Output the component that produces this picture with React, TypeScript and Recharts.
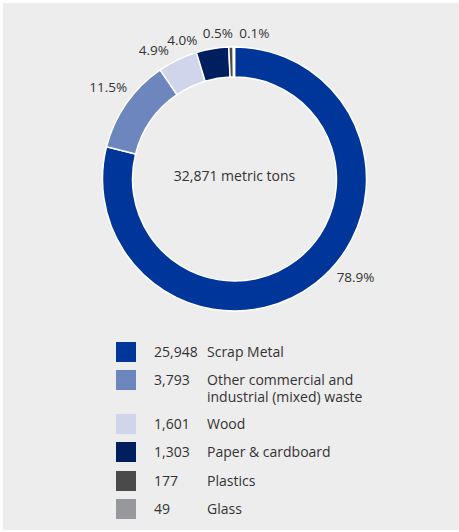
import React from 'react';
import { PieChart, Pie, Cell } from 'recharts';

const categories = [
  'Scrap Metal',
  'Other commercial and industrial (mixed) waste',
  'Wood',
  'Paper & cardboard',
  'Plastics',
  'Glass',
];
const tons = [25948, 3793, 1601, 1303, 177, 49];
const colors = ['#00369A', '#6E86BE', '#D0D5EB', '#001F5F', '#4A4A4A', '#96989B'];

// label placement tweaks (degrees, px beyond outer radius)
const labelNudge = [13, -1, 6.5, 11, 5, -8];
const labelGap = [24, 24, 20, 16, 15, 15];

const RAD = Math.PI / 180;
const FONT = '"Open Sans", "Noto Sans", sans-serif';
const CX = 231.5;
const CY = 176;

const data = categories.map((name, i) => ({ name, value: tons[i] }));
const total = tons.reduce((a, b) => a + b, 0);

const renderLabel = (props: any) => {
  const { cx, cy, midAngle, outerRadius, percent, index } = props;
  const angle = midAngle + labelNudge[index];
  const r = outerRadius + labelGap[index];
  const x = cx + r * Math.cos(-angle * RAD);
  const y = cy + r * Math.sin(-angle * RAD);
  return (
    <text
      x={x}
      y={y}
      textAnchor="middle"
      dominantBaseline="central"
      fill="#333"
      fontSize={13.5}
      fontFamily={FONT}
    >
      {(percent * 100).toFixed(1)}%
    </text>
  );
};

export default function App() {
  return (
    <div
      style={{
        position: 'absolute',
        left: 3,
        top: 3,
        width: 456,
        height: 527,
        background: '#EDEDED',
        fontFamily: FONT,
      }}
    >
      <PieChart width={456} height={330} margin={{ top: 0, right: 0, bottom: 0, left: 0 }}>
        <Pie
          data={data}
          dataKey="value"
          cx={CX}
          cy={CY}
          innerRadius={102}
          outerRadius={132}
          startAngle={90}
          endAngle={-270}
          stroke="#ffffff"
          strokeWidth={1.5}
          label={renderLabel}
          labelLine={false}
          isAnimationActive={false}
        >
          {data.map((d, i) => (
            <Cell key={d.name} fill={colors[i]} />
          ))}
        </Pie>
      </PieChart>

      <div
        style={{
          position: 'absolute',
          left: CX - 100,
          top: CY - 13,
          width: 200,
          textAlign: 'center',
          fontSize: 14,
          lineHeight: '20px',
          color: '#333',
        }}
      >
        {total.toLocaleString('en-US')} metric tons
      </div>

      <div style={{ position: 'absolute', left: 113, top: 338.5, color: '#333', fontSize: 14 }}>
        {categories.map((name, i) => (
          <div key={name} style={{ display: 'flex', alignItems: 'flex-start', marginBottom: 8.5 }}>
            <div style={{ width: 20, height: 20, background: colors[i], flexShrink: 0 }} />
            <div style={{ width: 53, marginLeft: 18, paddingTop: 1, lineHeight: '17px' }}>
              {tons[i].toLocaleString('en-US')}
            </div>
            <div style={{ width: 175, paddingTop: 1, lineHeight: '17px' }}>{name}</div>
          </div>
        ))}
      </div>
    </div>
  );
}
